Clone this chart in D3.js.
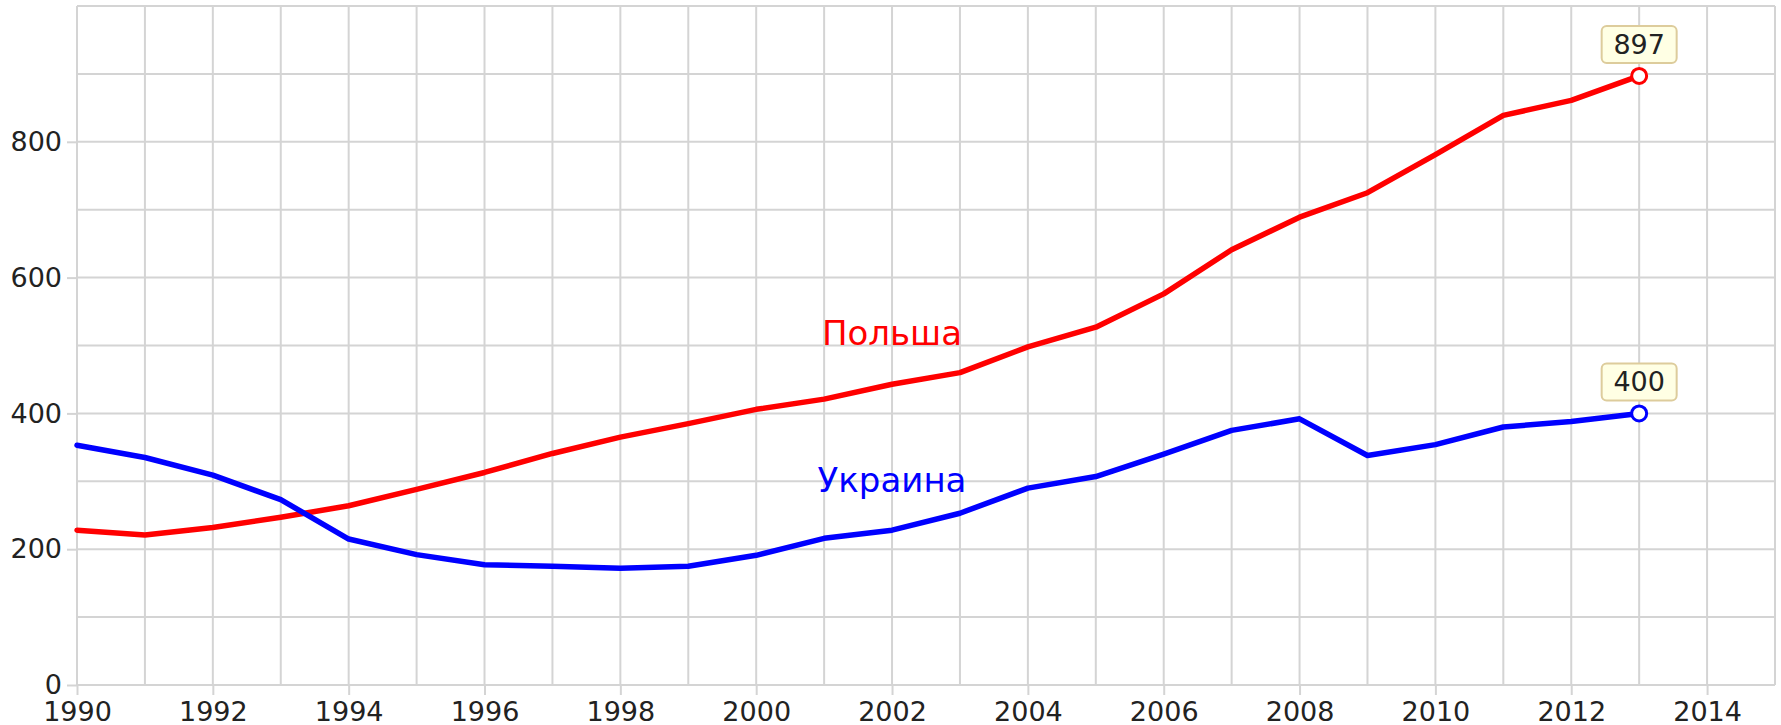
<!DOCTYPE html>
<html>
<head>
<meta charset="utf-8">
<script src="https://cdn.jsdelivr.net/npm/d3@7"></script>
<style>
  html, body { margin: 0; padding: 0; background: #fff; }
  svg { display: block; }
  text { font-family: "DejaVu Sans", Verdana, sans-serif; }
</style>
</head>
<body>
<svg id="chart" width="1781" height="725"></svg>
<script>
const years = [1990,1991,1992,1993,1994,1995,1996,1997,1998,1999,2000,2001,2002,2003,2004,2005,2006,2007,2008,2009,2010,2011,2012,2013];
const poland = [228,221,232,247,264,288,313,341,365,385,406,421,443,460,498,527,576,641,689,725,781,839,861,897];
const ukraine = [353,335,309,273,215,192,177,175,172,175,191,216,228,253,290,307,340,375,392,338,354,380,388,400];
const seriesNames = ["Польша", "Украина"];
const xTickLabels = [1990,1992,1994,1996,1998,2000,2002,2004,2006,2008,2010,2012,2014];
const yTickLabels = [0,200,400,600,800];

const margin = {left: 77, right: 6, top: 6, bottom: 40};
const W = 1781, H = 725;
const svg = d3.select("#chart");

const x = d3.scaleLinear().domain([1990, 2015]).range([margin.left, W - margin.right]);
const y = d3.scaleLinear().domain([0, 1000]).range([H - margin.bottom, margin.top]);

const gridColor = "#d4d4d4";

// grid
const g = svg.append("g");
g.selectAll("line.v").data(d3.range(1990, 2016)).join("line")
  .attr("x1", d => x(d)).attr("x2", d => x(d))
  .attr("y1", y(0)).attr("y2", y(1000))
  .attr("stroke", gridColor).attr("stroke-width", 2);
g.selectAll("line.h").data(d3.range(0, 1001, 100)).join("line")
  .attr("x1", x(1990)).attr("x2", x(2015))
  .attr("y1", d => y(d)).attr("y2", d => y(d))
  .attr("stroke", gridColor).attr("stroke-width", 2);

// axes
const yAxis = svg.append("g").attr("transform", `translate(${x(1990)},0)`)
  .call(d3.axisLeft(y).tickValues(yTickLabels).tickSize(10).tickPadding(5).tickFormat(d3.format("d")));
const xAxis = svg.append("g").attr("transform", `translate(0,${y(0)})`)
  .call(d3.axisBottom(x).tickValues(xTickLabels).tickSize(10).tickPadding(7).tickFormat(d3.format("d")));
[yAxis, xAxis].forEach(a => {
  a.select(".domain").remove();
  a.selectAll(".tick line").attr("stroke", gridColor).attr("stroke-width", 2);
  a.selectAll(".tick text").attr("fill", "#222").style("font-size", "27px")
    .style("font-family", '"DejaVu Sans", Verdana, sans-serif');
});

// lines
const line = d3.line().x((d, i) => x(years[i])).y(d => y(d));
const series = [
  {name: seriesNames[0], values: poland, color: "#ff0000", labelY: 501},
  {name: seriesNames[1], values: ukraine, color: "#0000ff", labelY: 284}
];
series.forEach(s => {
  svg.append("path").datum(s.values)
    .attr("d", line).attr("fill", "none")
    .attr("stroke", s.color).attr("stroke-width", 5.5)
    .attr("stroke-linejoin", "round").attr("stroke-linecap", "round");
  svg.append("text").attr("x", x(2002)).attr("y", y(s.labelY))
    .attr("text-anchor", "middle").attr("fill", s.color)
    .style("font-size", "34px").text(s.name);

  const lastI = s.values.length - 1;
  const cx = x(years[lastI]), cy = y(s.values[lastI]);
  svg.append("circle").attr("cx", cx).attr("cy", cy).attr("r", 7.5)
    .attr("fill", "#fff").attr("stroke", s.color).attr("stroke-width", 3);
  const bw = 75, bh = 37;
  svg.append("rect").attr("x", cx - bw/2).attr("y", cy - 13 - bh)
    .attr("width", bw).attr("height", bh).attr("rx", 5).attr("ry", 5)
    .attr("fill", "#ffffe4").attr("stroke", "#ddcc9c").attr("stroke-width", 2);
  svg.append("text").attr("x", cx).attr("y", cy - 13 - 9)
    .attr("text-anchor", "middle").attr("fill", "#222")
    .style("font-size", "27px").text(s.values[lastI]);
});
</script>
</body>
</html>
